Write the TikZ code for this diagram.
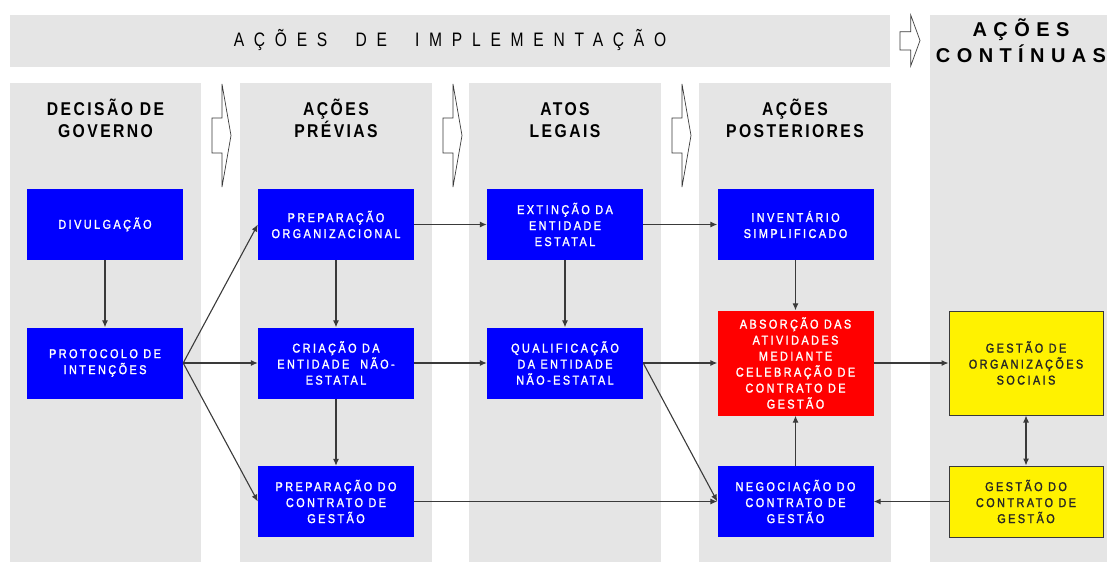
\documentclass[tikz,border=0pt]{standalone}
\usepackage{fontspec}
\setmainfont{Liberation Sans}
\newfontfamily\boxfont[FakeStretch=0.85,LetterSpace=19,FakeBold=1.6]{Liberation Sans}
\newfontfamily\headfont[FakeStretch=0.85,LetterSpace=13]{Liberation Sans}
\newfontfamily\bannerfont[FakeStretch=0.8,LetterSpace=50]{Liberation Sans}
\newfontfamily\contfont[LetterSpace=32]{Liberation Sans}
\usetikzlibrary{arrows.meta}
\definecolor{panelgray}{HTML}{E5E5E5}
\definecolor{linegray}{HTML}{3A3A3A}

\begin{document}
\begin{tikzpicture}[x=1pt,y=-1pt,
  box/.style={minimum width=156pt,minimum height=71pt,inner sep=0pt,align=center,
    font=\boxfont\fontsize{12.8}{16}\selectfont},
  bluebox/.style={box,fill=blue,text=white},
  redbox/.style={box,fill=red,text=white,minimum height=105pt},
  yellowbox/.style={box,fill=yellow,draw=linegray,line width=1pt,text=black!85,minimum width=154pt},
  head/.style={align=center,inner sep=0pt,font=\headfont\bfseries\fontsize{18.5}{22}\selectfont},
  link/.style={draw=linegray,line width=1.1pt,-{Latex[length=7pt,width=6pt]}},
  blockarrow/.style={draw=linegray,fill=white,line width=0.7pt}]
\useasboundingbox (0,0) rectangle (1107,562);
\fill[panelgray] (10,15) rectangle (890,67);
\fill[panelgray] (930,15) rectangle (1107,562);
\foreach \x/\w in {10/191,240/192,469/192,699/192}
  \fill[panelgray] (\x,83) rectangle ++(\w,479);
\foreach \x in {201,432,661}
  \draw[blockarrow] (\x+11,118) -- (\x+21,118) -- (\x+21,84) -- (\x+30,135.5)
    -- (\x+21,187) -- (\x+21,153) -- (\x+11,153) -- cycle;
\draw[blockarrow] (900,31.7) -- (910.7,31.7) -- (910.7,15) -- (920,40.5)
  -- (910.7,66) -- (910.7,50) -- (900,50) -- cycle;

\node[font=\bannerfont\fontsize{19.5}{22}\selectfont] (impl) at (450,40.3) {AÇÕES~ DE~ IMPLEMENTAÇÃO};
\node[align=center,inner sep=0pt,font=\contfont\bfseries\fontsize{20}{26}\selectfont] (cont) at (1021,40.5) {AÇÕES\\CONTÍNUAS};

\node[head] (hdec) at (105.5,118.5) {DECISÃO DE\\GOVERNO};
\node[head] (hpre) at (336,118.5) {AÇÕES\\PRÉVIAS};
\node[head] (hato) at (565,120.5) {ATOS\\LEGAIS};
\node[head] (hpos) at (795,118.5) {AÇÕES\\POSTERIORES};

\node[bluebox] (div) at (105,224.5) {DIVULGAÇÃO};
\node[bluebox] (prot) at (105,363) {PROTOCOLO DE\\INTENÇÕES};
\node[bluebox] (porg) at (336,224.5) {PREPARAÇÃO\\ORGANIZACIONAL};
\node[bluebox] (cria) at (336,363) {CRIAÇÃO DA\\ENTIDADE~ NÃO-\\ESTATAL};
\node[bluebox] (pcon) at (336,501.5) {PREPARAÇÃO DO\\CONTRATO DE\\GESTÃO};
\node[bluebox] (ext) at (565,224.5) {EXTINÇÃO DA\\ENTIDADE\\ESTATAL};
\node[bluebox] (qual) at (565,363) {QUALIFICAÇÃO\\DA ENTIDADE\\NÃO-ESTATAL};
\node[bluebox] (inv) at (795.5,224.5) {INVENTÁRIO\\SIMPLIFICADO};
\node[redbox] (abs) at (795.5,363) {ABSORÇÃO DAS\\ATIVIDADES\\MEDIANTE\\CELEBRAÇÃO DE\\CONTRATO DE\\GESTÃO};
\node[bluebox] (neg) at (795.5,501.5) {NEGOCIAÇÃO DO\\CONTRATO DE\\GESTÃO};
\node[yellowbox,minimum height=104pt] (gorg) at (1026,363) {GESTÃO DE\\ORGANIZAÇÕES\\SOCIAIS};
\node[yellowbox] (gcon) at (1026,501.5) {GESTÃO DO\\CONTRATO DE\\GESTÃO};

\draw[link] (div) -- (prot);
\draw[link] (prot.east) -- (porg.west);
\draw[link] (prot.east) -- (cria.west);
\draw[link] (prot.east) -- (pcon.west);
\draw[link] (porg) -- (cria);
\draw[link] (cria) -- (pcon);
\draw[link] (porg) -- (ext);
\draw[link] (cria) -- (qual);
\draw[link] (ext) -- (qual);
\draw[link] (ext) -- (inv);
\draw[link] (inv) -- (abs);
\draw[link] (qual) -- (abs);
\draw[link] (qual.east) -- (neg.west);
\draw[link] (pcon) -- (neg);
\draw[link] (neg) -- (abs);
\draw[link] (abs) -- (gorg);
\draw[link,{Latex[length=7pt,width=6pt]}-{Latex[length=7pt,width=6pt]}] (gorg) -- (gcon);
\draw[link] (gcon) -- (neg);
\end{tikzpicture}
\end{document}
